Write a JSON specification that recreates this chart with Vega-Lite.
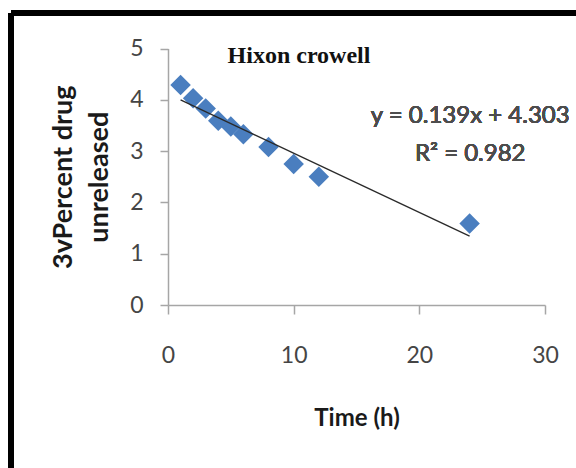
{
  "$schema": "https://vega.github.io/schema/vega-lite/v6.json",
  "autosize": {"type": "none"},
  "width": 565,
  "height": 455,
  "padding": {"left": 11, "top": 13, "right": 0, "bottom": 0},
  "background": "white",
  "config": {
    "view": {"stroke": "black", "strokeWidth": 6, "strokeDash": [565, 1020, 455, 0]},
    "axis": {"grid": false, "labelFlush": false, "domainColor": "#a6a6a6", "tickColor": "#a6a6a6", "domainWidth": 1.5, "tickWidth": 1.5, "labelFont": "Lato", "labelFontWeight": "normal", "labelColor": "#454545", "titleFont": "Lato", "titleColor": "#1a1a1a"}
  },
  "title": {
    "text": "Hixon crowell",
    "font": "Liberation Serif",
    "fontSize": 24,
    "fontWeight": "bold",
    "color": "#111111",
    "anchor": "middle",
    "frame": "group",
    "baseline": "alphabetic",
    "offset": 0,
    "dx": 5.5,
    "dy": 74
  },
  "data": {
    "values": [
      {"time": 1, "value": 4.29},
      {"time": 2, "value": 4.03},
      {"time": 3, "value": 3.83},
      {"time": 4, "value": 3.59},
      {"time": 5, "value": 3.48},
      {"time": 6, "value": 3.33},
      {"time": 8, "value": 3.08},
      {"time": 10, "value": 2.75},
      {"time": 12, "value": 2.5},
      {"time": 24, "value": 1.59}
    ]
  },
  "layer": [
    {
      "mark": {"type": "point", "shape": "diamond", "filled": true, "size": 420, "color": "#4a7ebf", "opacity": 1},
      "encoding": {
        "x": {
          "field": "time", "type": "quantitative",
          "scale": {"domain": [0, 30], "range": [157, 534], "nice": false, "zero": false},
          "axis": {"values": [0, 10, 20, 30], "format": "d", "offset": -163, "tickSize": 9, "labelPadding": 30, "labelFontSize": 23, "title": "Time (h)", "titleFontSize": 24, "titleFontWeight": "bold", "titlePadding": 39}
        },
        "y": {
          "field": "value", "type": "quantitative",
          "scale": {"domain": [0, 5], "range": [292, 35.5], "nice": false, "zero": false},
          "axis": {"values": [0, 1, 2, 3, 4, 5], "format": "d", "offset": -157, "tickSize": 8, "labelPadding": 17, "labelFontSize": 23, "title": ["3vPercent drug", "unreleased"], "titleFontSize": 27, "titleFontWeight": "bold", "titleLineHeight": 36, "titlePadding": 16}
        }
      }
    },
    {
      "transform": [{"regression": "value", "on": "time"}],
      "mark": {"type": "line", "color": "#2a2a2a", "strokeWidth": 1.3},
      "encoding": {
        "x": {"field": "time", "type": "quantitative"},
        "y": {"field": "value", "type": "quantitative"}
      }
    },
    {
      "mark": {"type": "text", "font": "Lato", "fontSize": 24, "fontWeight": "normal", "color": "#4d4d4d", "align": "center", "baseline": "alphabetic", "lineHeight": 38},
      "encoding": {
        "x": {"datum": 24.05},
        "y": {"datum": 3.54},
        "text": {"value": ["y = 0.139x + 4.303", "R² = 0.982"]}
      }
    }
  ]
}
